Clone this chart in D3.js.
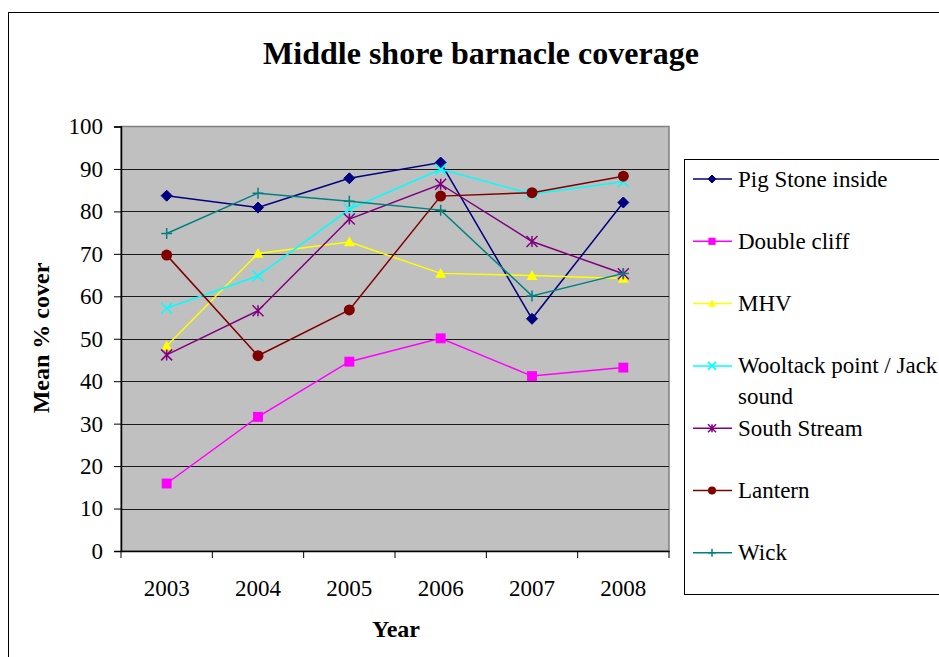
<!DOCTYPE html>
<html>
<head>
<meta charset="utf-8">
<script src="https://cdn.jsdelivr.net/npm/d3@7"></script>
<style>
  html, body { margin: 0; padding: 0; background: #fff; }
  svg { display: block; }
  text { font-family: "Liberation Serif", "Times New Roman", serif; fill: #000; }
</style>
</head>
<body>
<svg id="chart" width="939" height="657"></svg>
<script>
// ---- data ----
const years = ["2003", "2004", "2005", "2006", "2007", "2008"];
const seriesNames = ["Pig Stone inside", "Double cliff", "MHV", "Wooltack point / Jack sound", "South Stream", "Lantern", "Wick"];
const pigStone   = [83.7, 80.9, 87.8, 91.5, 54.7, 82.1];
const doubleCliff = [15.9, 31.6, 44.6, 50.1, 41.2, 43.2];
const mhv        = [48.3, 70.1, 72.8, 65.4, 64.9, 64.2];
const wooltack   = [57.2, 64.8, 80.5, 89.9, 84.1, 87.0];
const southStream = [46.2, 56.6, 78.2, 86.4, 72.9, 65.3];
const lantern    = [69.7, 46.0, 56.8, 83.6, 84.4, 88.3];
const wick       = [74.8, 84.3, 82.4, 80.3, 60.1, 65.4];
const yTicks = [0, 10, 20, 30, 40, 50, 60, 70, 80, 90, 100];

const seriesValues = [pigStone, doubleCliff, mhv, wooltack, southStream, lantern, wick];
const colors = ["#000080", "#FF00FF", "#FFFF00", "#00FFFF", "#800080", "#800000", "#008080"];
const markers = ["diamond", "square", "triangle", "x", "asterisk", "circle", "plus"];

const FONT = "'Liberation Serif', 'Times New Roman', serif";
const svg = d3.select("#chart");

// outer border
svg.append("rect").attr("x", 8.5).attr("y", 12.5).attr("width", 1000).attr("height", 700)
  .attr("fill", "#fff").attr("stroke", "#000").attr("stroke-width", 1);

// title
svg.append("text").attr("x", 481).attr("y", 64).attr("text-anchor", "middle")
  .attr("font-family", FONT).attr("font-size", 32).attr("font-weight", "bold")
  .text("Middle shore barnacle coverage");

const plot = { left: 121, right: 669, top: 126.5, bottom: 551 };
const x = d3.scaleBand().domain(years).range([plot.left, plot.right]);
const y = d3.scaleLinear().domain([0, 100]).range([plot.bottom, plot.top]);

// plot background
svg.append("rect").attr("x", plot.left).attr("y", plot.top)
  .attr("width", plot.right - plot.left).attr("height", plot.bottom - plot.top)
  .attr("fill", "#C0C0C0").attr("stroke", "#808080").attr("stroke-width", 1.5);

// gridlines
svg.append("g").selectAll("line").data(yTicks.filter(d => d > 0 && d < 100)).join("line")
  .attr("x1", plot.left).attr("x2", plot.right)
  .attr("y1", d => Math.round(y(d)) + 0.5).attr("y2", d => Math.round(y(d)) + 0.5)
  .attr("stroke", "#1a1a1a").attr("stroke-width", 1.2);

// y axis
const yAxis = d3.axisLeft(y).tickValues(yTicks).tickSize(7).tickPadding(11).tickFormat(d3.format("d"));
const gy = svg.append("g").attr("transform", `translate(${plot.left},0)`).call(yAxis);
gy.attr("font-family", FONT);
gy.select(".domain").attr("stroke", "#000").attr("stroke-width", 1.5);
gy.selectAll(".tick line").attr("stroke", "#000");
gy.selectAll(".tick text").attr("font-size", 23).attr("font-family", FONT).attr("fill", "#000");

// x axis
const xAxis = d3.axisBottom(x).tickSize(0).tickPadding(29);
const gx = svg.append("g").attr("transform", `translate(0,${plot.bottom})`).call(xAxis);
gx.attr("font-family", FONT);
gx.select(".domain").attr("stroke", "#000").attr("stroke-width", 1.5);
gx.selectAll(".tick text").attr("font-size", 23).attr("font-family", FONT).attr("fill", "#000");
const boundaries = years.map(d => x(d)).concat([x(years[years.length - 1]) + x.bandwidth()]);
svg.append("g").selectAll("line").data(boundaries).join("line")
  .attr("x1", d => d).attr("x2", d => d).attr("y1", plot.bottom).attr("y2", plot.bottom + 7)
  .attr("stroke", "#000").attr("stroke-width", 1);

// axis titles
svg.append("text").attr("x", 396).attr("y", 637).attr("text-anchor", "middle")
  .attr("font-family", FONT).attr("font-size", 24).attr("font-weight", "bold").text("Year");
svg.append("text").attr("transform", "translate(49,338) rotate(-90)").attr("text-anchor", "middle")
  .attr("font-family", FONT).attr("font-size", 24).attr("font-weight", "bold").text("Mean % cover");

// marker drawing
function drawMarker(g, type, color, s) {
  const h = s / 2;
  switch (type) {
    case "diamond":
      g.append("path").attr("d", `M0,${-h}L${h},0L0,${h}L${-h},0Z`).attr("fill", color).attr("stroke", color);
      break;
    case "square":
      g.append("rect").attr("x", -h * 0.9).attr("y", -h * 0.9).attr("width", s * 0.9).attr("height", s * 0.9).attr("fill", color);
      break;
    case "triangle":
      g.append("path").attr("d", `M0,${-h}L${h},${h * 0.8}L${-h},${h * 0.8}Z`).attr("fill", color);
      break;
    case "circle":
      g.append("circle").attr("r", h).attr("fill", color);
      break;
    case "x":
      g.append("path").attr("d", `M${-h},${-h}L${h},${h}M${-h},${h}L${h},${-h}`).attr("stroke", color).attr("stroke-width", 1.5).attr("fill", "none");
      break;
    case "asterisk":
      g.append("path").attr("d", `M${-h},${-h}L${h},${h}M${-h},${h}L${h},${-h}M0,${-h}L0,${h}`).attr("stroke", color).attr("stroke-width", 1.5).attr("fill", "none");
      break;
    case "plus":
      g.append("path").attr("d", `M${-h},0L${h},0M0,${-h}L0,${h}`).attr("stroke", color).attr("stroke-width", 1.5).attr("fill", "none");
      break;
  }
}

const cx = d => x(d) + x.bandwidth() / 2;
const line = d3.line().x((v, i) => cx(years[i])).y(v => y(v));

seriesValues.forEach((vals, si) => {
  svg.append("path").datum(vals).attr("d", line)
    .attr("fill", "none").attr("stroke", colors[si]).attr("stroke-width", 1.5);
});
seriesValues.forEach((vals, si) => {
  vals.forEach((v, i) => {
    const g = svg.append("g").attr("transform", `translate(${cx(years[i])},${y(v)})`);
    drawMarker(g, markers[si], colors[si], 11);
  });
});

// legend
const legend = svg.append("g");
legend.append("rect").attr("x", 684.5).attr("y", 159.5).attr("width", 300).attr("height", 435)
  .attr("fill", "#fff").attr("stroke", "#000").attr("stroke-width", 1);
seriesNames.forEach((name, i) => {
  const ly = 179 + i * 62.3;
  const g = legend.append("g").attr("transform", `translate(0,${ly})`);
  g.append("line").attr("x1", 693).attr("x2", 732).attr("y1", 0).attr("y2", 0)
    .attr("stroke", colors[i]).attr("stroke-width", 1.5);
  const mg = g.append("g").attr("transform", "translate(712,0)");
  drawMarker(mg, markers[i], colors[i], 8);
  const t = g.append("text").attr("x", 738).attr("y", 0).attr("dy", "0.33em")
    .attr("font-family", FONT).attr("font-size", 23);
  if (name.startsWith("Wooltack")) {
    t.append("tspan").attr("x", 738).text("Wooltack point / Jack");
    t.append("tspan").attr("x", 738).attr("dy", "1.33em").text("sound");
  } else {
    t.text(name);
  }
});
</script>
</body>
</html>
